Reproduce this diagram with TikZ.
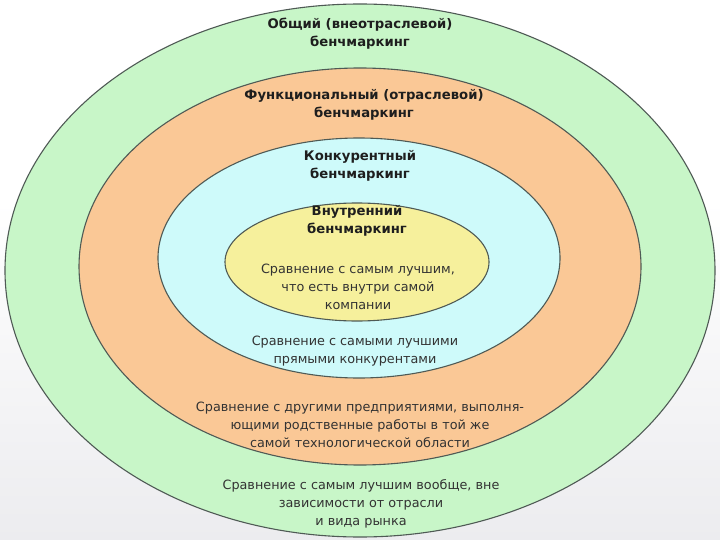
\documentclass[tikz,border=0pt]{standalone}
\usepackage{fontspec}
\setmainfont{DejaVu Sans}
\usetikzlibrary{shapes.geometric}
\definecolor{ringgreen}{HTML}{C8F6C8}
\definecolor{ringorange}{HTML}{FAC896}
\definecolor{ringcyan}{HTML}{CEFAFA}
\definecolor{ringyellow}{HTML}{F6F09C}
\definecolor{ringline}{HTML}{4F5A55}
\definecolor{bgray}{HTML}{ECECEF}
\definecolor{titlecol}{HTML}{1E1E1E}
\definecolor{desccol}{HTML}{333333}
\begin{document}
\begin{tikzpicture}[x=1pt,y=-1pt,
  ring/.style={ellipse, draw=ringline, line width=1.1pt, inner sep=0pt, outer sep=0pt},
  ttl/.style={font=\bfseries\fontsize{13.2}{18}\selectfont, text=titlecol, align=center, inner sep=0pt},
  desc/.style={font=\fontsize{12.8}{18.3}\selectfont, text=desccol, align=center, inner sep=0pt}]
\useasboundingbox (0,0) rectangle (720,540);
\fill[white] (0,0) rectangle (720,540);
\shade[top color=white, bottom color=bgray] (0,200) rectangle (720,540);
\node[ring, fill=ringgreen, minimum width=710pt, minimum height=533pt] (gen) at (360,270.5) {};
\node[ring, fill=ringorange, minimum width=562pt, minimum height=397pt] (func) at (360,266.5) {};
\node[ring, fill=ringcyan, minimum width=402pt, minimum height=240pt] (comp) at (359,258) {};
\node[ring, fill=ringyellow, minimum width=264pt, minimum height=118pt] (int) at (357,262) {};
\node[ttl] (gentitle) at (360,34) {Общий (внеотраслевой)\\бенчмаркинг};
\node[ttl] (functitle) at (364,105) {Функциональный (отраслевой)\\бенчмаркинг};
\node[ttl] (comptitle) at (360,166) {Конкурентный\\бенчмаркинг};
\node[ttl] (inttitle) at (357,221) {Внутренний\\бенчмаркинг};
\node[desc] (intdesc) at (358,287) {Сравнение с самым лучшим,\\что есть внутри самой\\компании};
\node[desc] (compdesc) at (355,351) {Сравнение с самыми лучшими\\прямыми конкурентами};
\node[desc] (funcdesc) at (360,425) {Сравнение с другими предприятиями, выполня-\\ющими родственные работы в той же\\самой технологической области};
\node[desc] (gendesc) at (361,504) {Сравнение с самым лучшим вообще, вне\\зависимости от отрасли\\и вида рынка};
\end{tikzpicture}
\end{document}
